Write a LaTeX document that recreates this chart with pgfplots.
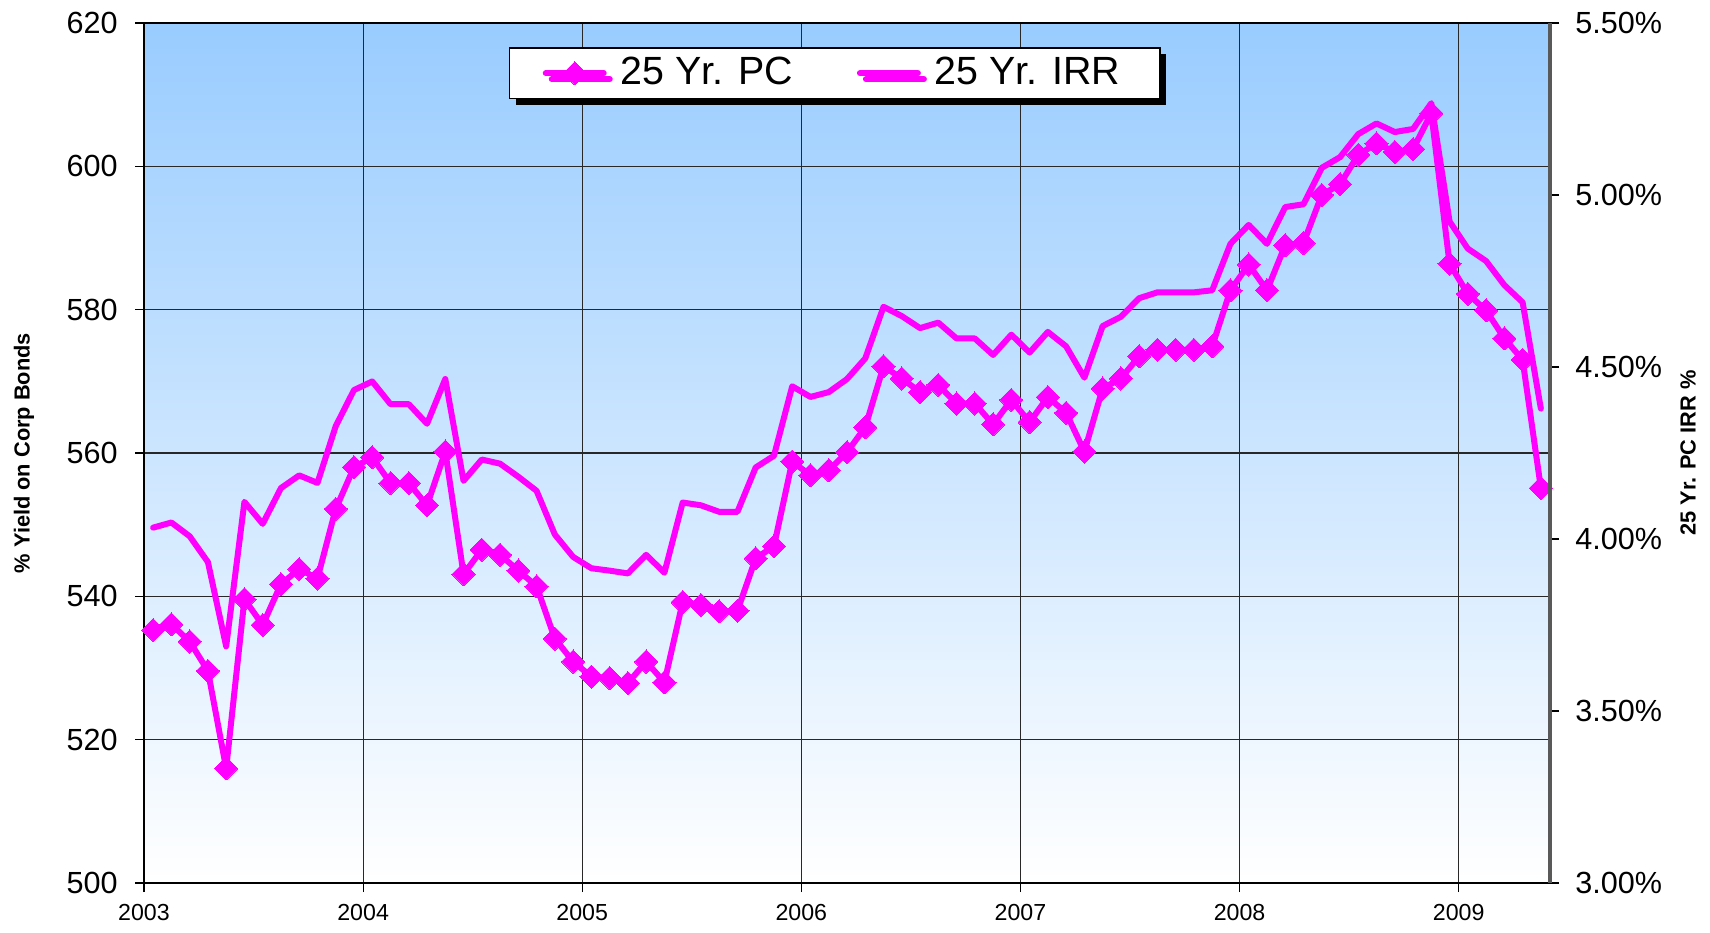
\documentclass[border=0pt]{standalone}
\usepackage{pgfplots}
\pgfplotsset{compat=1.18}
\usepackage{pgfplotstable}
\usepackage{fontspec}
\setmainfont{Liberation Sans}
\usetikzlibrary{shadows}

\definecolor{pcmag}{RGB}{255,0,255}
\definecolor{skytop}{RGB}{153,204,255}
\definecolor{gridc}{RGB}{40,40,40}

% month index from Jan 2003; pc on left axis, irr (%) on right axis
\pgfplotstableread{
m pc irr
0 535.3 4.033
1 536.1 4.048
2 533.7 4.008
3 529.6 3.933
4 516.0 3.688
5 539.6 4.108
6 536.0 4.044
7 541.7 4.148
8 543.8 4.185
9 542.5 4.163
10 552.2 4.328
11 558.0 4.433
12 559.4 4.458
13 555.8 4.392
14 555.8 4.392
15 552.7 4.335
16 560.2 4.465
17 543.1 4.169
18 546.5 4.231
19 545.8 4.219
20 543.6 4.181
21 541.4 4.140
22 534.1 4.013
23 530.9 3.948
24 528.8 3.915
25 528.6 3.908
26 527.9 3.900
27 530.9 3.954
28 528.0 3.902
29 539.2 4.106
30 538.8 4.098
31 537.9 4.079
32 538.0 4.079
33 545.3 4.208
34 547.0 4.242
35 558.8 4.444
36 556.9 4.413
37 557.6 4.427
38 560.1 4.465
39 563.6 4.525
40 572.1 4.675
41 570.4 4.648
42 568.5 4.613
43 569.5 4.629
44 566.9 4.583
45 566.9 4.583
46 564.0 4.535
47 567.4 4.594
48 564.3 4.542
49 567.8 4.602
50 565.6 4.560
51 560.2 4.469
52 569.0 4.619
53 570.4 4.646
54 573.5 4.700
55 574.4 4.717
56 574.4 4.717
57 574.4 4.717
58 574.9 4.723
59 582.7 4.858
60 586.3 4.913
61 582.7 4.858
62 589.0 4.965
63 589.3 4.973
64 596.0 5.079
65 597.5 5.110
66 601.6 5.177
67 603.2 5.208
68 602.0 5.183
69 602.4 5.192
70 607.4 5.267
71 586.4 4.923
72 582.2 4.844
73 579.9 4.808
74 576.0 4.738
75 573.0 4.688
76 555.1 4.379
}\bonddata

\begin{document}
\begin{tikzpicture}
\path[use as bounding box] (-14.4mm,-4.9mm) rectangle (156.6mm,88.3mm);
\begin{axis}[
 at={(0,0)}, anchor=south west,
 scale only axis, width=140.6mm, height=86mm,
 xmin=0, xmax=77, ymin=500, ymax=620,
 xtick={0,12,...,72}, xticklabels={2003,2004,2005,2006,2007,2008,2009},
 ytick={500,520,...,620},
 grid=major, grid style={gridc, line width=0.12mm},
 axis background/.style={top color=skytop, bottom color=white},
 axis line style={black, line width=0.15mm},
 tick align=outside, major tick length=0.9mm,
 tick style={black, line width=0.12mm},
 ytick pos=left, xtick pos=bottom,
 /pgf/number format/assume math mode=true,
 yticklabel style={font=\fontsize{8.7}{10}\selectfont, xshift=-0.5mm},
 xticklabel style={font=\fontsize{6.6}{8}\selectfont},
 ylabel={\% Yield on Corp Bonds},
 ylabel style={font=\bfseries\fontsize{6.2}{7}\selectfont,
   at={(axis description cs:-0.0853,0.5)}, anchor=center},
 legend columns=2,
 legend style={at={(0.2596,0.972)}, anchor=north west,
   draw=black, line width=0.15mm, fill=white,
   font=\fontsize{11.2}{13}\selectfont,
   inner xsep=3.3mm, inner ysep=0.2mm,
   drop shadow={fill=black, opacity=1, shadow xshift=0.6mm, shadow yshift=-0.6mm},
   /tikz/every even column/.append style={column sep=5.7mm}},
 legend image code/.code={
   \draw[mark repeat=2, mark phase=2, #1]
     plot coordinates {(0mm,0mm) (2.9mm,0mm) (5.8mm,0mm)};
   \path (6.5mm,0mm);},
]
\addplot[pcmag, line width=0.6mm, line join=round, line cap=round,
  mark=square*, mark size=0.82mm,
  mark options={rotate=45, solid, line width=0pt}]
  table[x expr=\thisrow{m}+0.5, y=pc] {\bonddata};
\addlegendentry{25 Yr. PC}
\addlegendimage{pcmag, line width=0.6mm, line cap=round}
\addlegendentry{25 Yr. IRR}
\end{axis}

\begin{axis}[
 at={(0,0)}, anchor=south west,
 scale only axis, width=140.6mm, height=86mm,
 xmin=0, xmax=77, ymin=3, ymax=5.5,
 axis x line=none, axis y line*=right,
 ytick={3,3.5,4,4.5,5,5.5},
 tick align=outside, major tick length=0.9mm,
 tick style={black, line width=0.12mm},
 axis line style={black!65, line width=0.35mm},
 /pgf/number format/assume math mode=true,
 yticklabel={\pgfmathprintnumber[fixed,fixed zerofill,precision=2]{\tick}\%},
 yticklabel style={font=\fontsize{8.7}{10}\selectfont, xshift=0.4mm},
 ylabel={25 Yr. PC IRR \%},
 ylabel style={font=\bfseries\fontsize{6.2}{7}\selectfont,
   at={(axis description cs:1.0982,0.5)}, anchor=center, rotate=0},
]
\addplot[pcmag, line width=0.6mm, line join=round, line cap=round]
  table[x expr=\thisrow{m}+0.5, y=irr] {\bonddata};
\end{axis}
\end{tikzpicture}
\end{document}
